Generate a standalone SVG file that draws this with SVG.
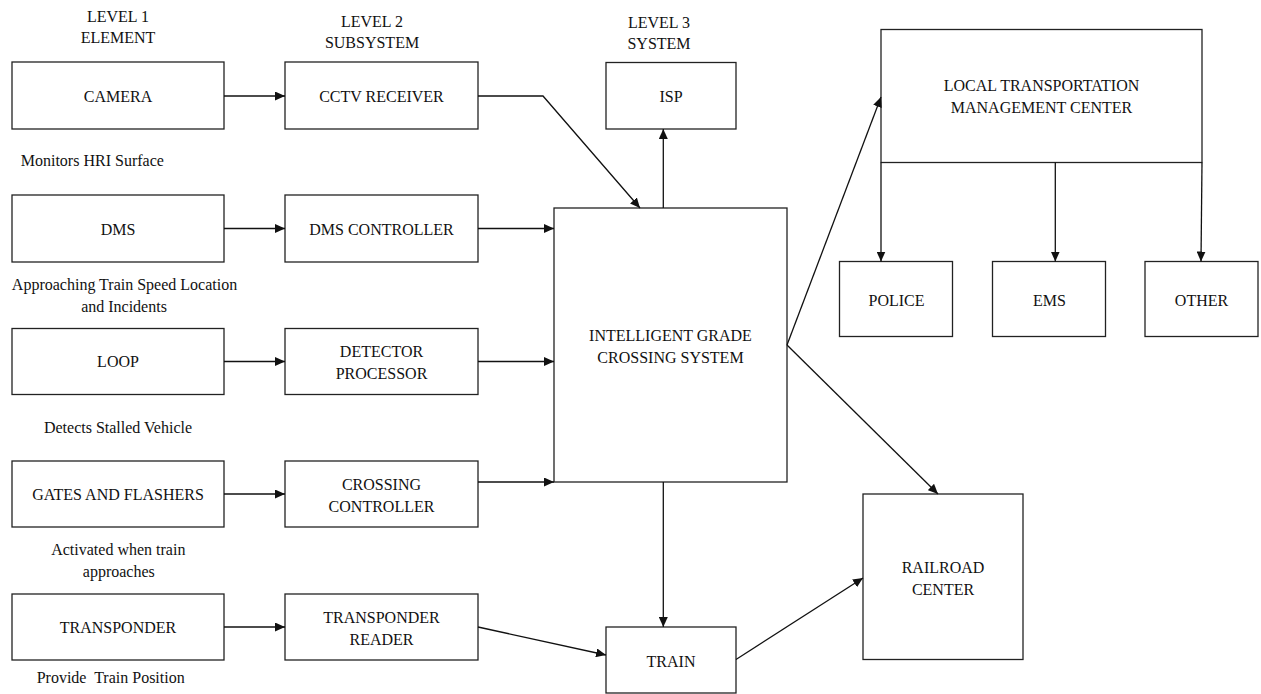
<svg xmlns="http://www.w3.org/2000/svg" width="1261" height="694" viewBox="0 0 1261 694">
<defs>
<style>
.box{fill:#fff;stroke:#222;stroke-width:1.3}
.t{font-family:"Liberation Serif","Times New Roman",serif;font-size:16px;fill:#111;text-anchor:middle}
.ln{fill:none;stroke:#111;stroke-width:1.3}
</style>
<marker id="ah" markerUnits="userSpaceOnUse" markerWidth="10" markerHeight="9" refX="10" refY="4.5" orient="auto">
<path d="M0,0 L10,4.5 L0,9 z" fill="#111"/>
</marker>
</defs>
<rect width="1261" height="694" fill="#fff"/>

<g id="labels">
<text class="t" x="118" y="21.5">LEVEL 1</text>
<text class="t" x="118" y="43">ELEMENT</text>
<text class="t" x="372" y="26.5">LEVEL 2</text>
<text class="t" x="372" y="48">SUBSYSTEM</text>
<text class="t" x="659" y="27.5">LEVEL 3</text>
<text class="t" x="659" y="49">SYSTEM</text>
<text class="t" x="92.3" y="165.5">Monitors HRI Surface</text>
<text class="t" x="124.5" y="290">Approaching Train Speed Location</text>
<text class="t" x="124" y="311.5">and Incidents</text>
<text class="t" x="118" y="433">Detects Stalled Vehicle</text>
<text class="t" x="118.3" y="555">Activated when train</text>
<text class="t" x="118.8" y="576.5">approaches</text>
<text class="t" x="110.7" y="683" xml:space="preserve">Provide  Train Position</text>
</g>

<g id="camera"><rect class="box" x="12" y="62" width="212" height="67"/><text class="t" x="118" y="101.5">CAMERA</text></g>
<g id="dms"><rect class="box" x="12" y="195" width="212" height="67"/><text class="t" x="118" y="234.5">DMS</text></g>
<g id="loop"><rect class="box" x="12" y="328.5" width="212" height="66"/><text class="t" x="118" y="367">LOOP</text></g>
<g id="gates"><rect class="box" x="12" y="461" width="212" height="66"/><text class="t" x="118" y="499.5">GATES AND FLASHERS</text></g>
<g id="transponder"><rect class="box" x="12" y="594" width="212" height="66"/><text class="t" x="118" y="632.5">TRANSPONDER</text></g>

<g id="cctv"><rect class="box" x="285" y="62" width="193" height="67"/><text class="t" x="381.5" y="101.5">CCTV RECEIVER</text></g>
<g id="dmsctrl"><rect class="box" x="285" y="195" width="193" height="67"/><text class="t" x="381.5" y="234.5">DMS CONTROLLER</text></g>
<g id="detector"><rect class="box" x="285" y="328.5" width="193" height="66"/><text class="t" x="381.5" y="357">DETECTOR</text><text class="t" x="381.5" y="379">PROCESSOR</text></g>
<g id="crossing"><rect class="box" x="285" y="461" width="193" height="66"/><text class="t" x="381.5" y="490">CROSSING</text><text class="t" x="381.5" y="512">CONTROLLER</text></g>
<g id="reader"><rect class="box" x="285" y="594" width="193" height="66"/><text class="t" x="381.5" y="623">TRANSPONDER</text><text class="t" x="381.5" y="645">READER</text></g>

<g id="isp"><rect class="box" x="606" y="62.5" width="130" height="66.5"/><text class="t" x="671" y="102">ISP</text></g>
<g id="icgs"><rect class="box" x="554" y="208" width="233" height="274"/><text class="t" x="670.5" y="341">INTELLIGENT GRADE</text><text class="t" x="670.5" y="363">CROSSING SYSTEM</text></g>
<g id="train"><rect class="box" x="606" y="627" width="130" height="66"/><text class="t" x="671" y="666.5">TRAIN</text></g>

<g id="ltmc"><rect class="box" x="881" y="29.5" width="321" height="133"/><text class="t" x="1041.5" y="90.5">LOCAL TRANSPORTATION</text><text class="t" x="1041.5" y="112.5">MANAGEMENT CENTER</text></g>
<g id="police"><rect class="box" x="839.5" y="261.5" width="113" height="75"/><text class="t" x="896.5" y="306">POLICE</text></g>
<g id="ems"><rect class="box" x="992.5" y="261.5" width="113" height="75"/><text class="t" x="1049.5" y="306">EMS</text></g>
<g id="other"><rect class="box" x="1145" y="261.5" width="113" height="75"/><text class="t" x="1201.5" y="306">OTHER</text></g>
<g id="railroad"><rect class="box" x="863" y="494" width="160" height="165.5"/><text class="t" x="943" y="572.5">RAILROAD</text><text class="t" x="943" y="595">CENTER</text></g>

<g id="connectors">
<line class="ln" x1="224" y1="96" x2="285" y2="96" marker-end="url(#ah)"/>
<line class="ln" x1="224" y1="228.5" x2="285" y2="228.5" marker-end="url(#ah)"/>
<line class="ln" x1="224" y1="361.5" x2="285" y2="361.5" marker-end="url(#ah)"/>
<line class="ln" x1="224" y1="494" x2="285" y2="494" marker-end="url(#ah)"/>
<line class="ln" x1="224" y1="627" x2="285" y2="627" marker-end="url(#ah)"/>
<polyline class="ln" points="478,96 543,96 640,208" marker-end="url(#ah)"/>
<line class="ln" x1="478" y1="228.5" x2="554" y2="228.5" marker-end="url(#ah)"/>
<line class="ln" x1="478" y1="361.5" x2="554" y2="361.5" marker-end="url(#ah)"/>
<line class="ln" x1="478" y1="482" x2="554" y2="482" marker-end="url(#ah)"/>
<line class="ln" x1="478" y1="627" x2="606" y2="655" marker-end="url(#ah)"/>
<line class="ln" x1="663.3" y1="208" x2="663.3" y2="129" marker-end="url(#ah)"/>
<line class="ln" x1="663.3" y1="482" x2="663.3" y2="627" marker-end="url(#ah)"/>
<line class="ln" x1="787" y1="345" x2="881" y2="97" marker-end="url(#ah)"/>
<line class="ln" x1="787" y1="345" x2="938" y2="494" marker-end="url(#ah)"/>
<line class="ln" x1="736" y1="659.5" x2="863" y2="578" marker-end="url(#ah)"/>
<line class="ln" x1="881" y1="162.5" x2="881" y2="261.5" marker-end="url(#ah)"/>
<line class="ln" x1="1055.3" y1="162.5" x2="1055.3" y2="261.5" marker-end="url(#ah)"/>
<line class="ln" x1="1202" y1="162.5" x2="1201" y2="261.5" marker-end="url(#ah)"/>
</g>
</svg>
